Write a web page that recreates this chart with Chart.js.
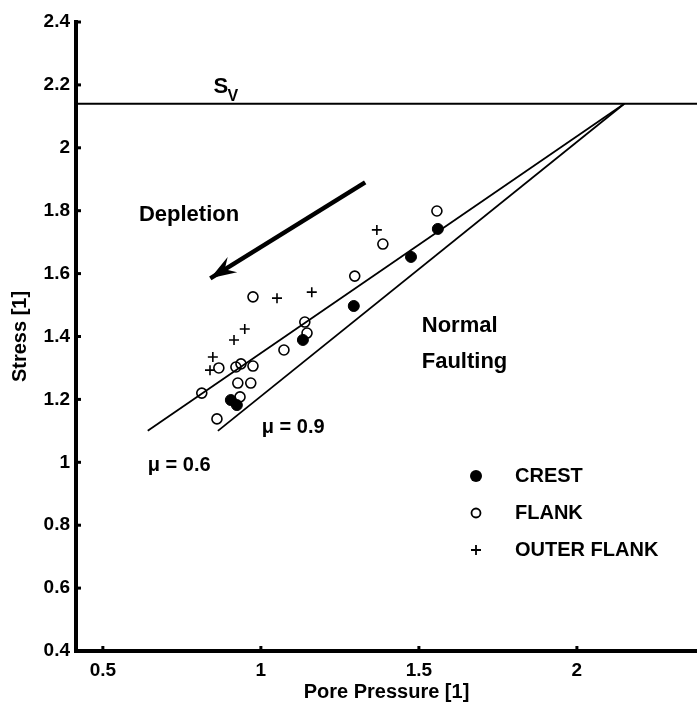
<!DOCTYPE html>
<html>
<head>
<meta charset="utf-8">
<script src="https://cdn.jsdelivr.net/npm/chart.js@4.4.1/dist/chart.umd.min.js"></script>
<style>
  html, body { margin: 0; padding: 0; background: #fff; overflow: hidden; }
  canvas { display: block; }
</style>
</head>
<body>
<canvas id="chart" width="697" height="704" style="width:697px;height:704px"></canvas>
<script>
// values (stress and pore pressure both normalised, [1])
const crestPp = [1.560, 1.475, 1.294, 1.133, 0.905, 0.924]
const crestS  = [1.742, 1.653, 1.497, 1.389, 1.198, 1.182]

const flankPp = [1.557, 1.386, 1.297, 0.975, 1.139, 1.146, 1.073, 0.867, 0.921, 0.937, 0.975, 0.927, 0.968, 0.813, 0.934, 0.861]
const flankS  = [1.799, 1.694, 1.592, 1.526, 1.446, 1.411, 1.357, 1.300, 1.303, 1.313, 1.306, 1.252, 1.252, 1.220, 1.208, 1.138]

const outerPp = [1.367, 1.161, 1.051, 0.949, 0.915, 0.848, 0.839]
const outerS  = [1.739, 1.541, 1.522, 1.424, 1.389, 1.335, 1.293]

const svValue = 2.14
const svPp = [0.415, 2.38]

const mu06Pp = [0.642, 2.15]
const mu06S  = [1.10, 2.14]
const mu09Pp = [0.864, 2.15]
const mu09S  = [1.10, 2.14]

const arrowPp = [1.33, 0.84]
const arrowS  = [1.89, 1.585]

const xTicks = [0.5, 1, 1.5, 2]
const yTicks = [0.4, 0.6, 0.8, 1, 1.2, 1.4, 1.6, 1.8, 2, 2.2, 2.4]
const legendLabels = ['CREST', 'FLANK', 'OUTER FLANK']

const FONT = '"Liberation Sans", Arial, Helvetica, sans-serif'

function toPoints(xs, ys) {
  return xs.map((v, i) => ({ x: v, y: ys[i] }))
}

// text notes placed in data units
const notes = [
  { text: 'Depletion', pp: 0.614, s: 1.786, size: 22 },
  { text: 'Normal', pp: 1.509, s: 1.433, size: 22 },
  { text: 'Faulting', pp: 1.509, s: 1.319, size: 22 },
  { text: 'μ = 0.9', pp: 1.003, s: 1.112, size: 20 },
  { text: 'μ = 0.6', pp: 0.642, s: 0.991, size: 20 },
]

const overlay = {
  id: 'overlay',
  afterDraw(chart) {
    const { ctx, chartArea: area } = chart
    const x = chart.scales.x
    const y = chart.scales.y
    ctx.save()
    ctx.fillStyle = '#000'
    ctx.strokeStyle = '#000'

    // inward tick marks
    ctx.lineWidth = 3
    yTicks.forEach(v => {
      const py = y.getPixelForValue(v)
      ctx.beginPath(); ctx.moveTo(area.left, py); ctx.lineTo(area.left + 5, py); ctx.stroke()
    })
    xTicks.forEach(v => {
      const px = x.getPixelForValue(v)
      ctx.beginPath(); ctx.moveTo(px, area.bottom); ctx.lineTo(px, area.bottom - 5); ctx.stroke()
    })

    // arrow head
    const x0 = x.getPixelForValue(arrowPp[0]), y0 = y.getPixelForValue(arrowS[0])
    const x1 = x.getPixelForValue(arrowPp[1]), y1 = y.getPixelForValue(arrowS[1])
    const a = Math.atan2(y1 - y0, x1 - x0)
    const pt = (d, w) => [x1 - d * Math.cos(a) - w * Math.sin(a), y1 - d * Math.sin(a) + w * Math.cos(a)]
    ctx.beginPath()
    ctx.moveTo(x1, y1)
    ctx.lineTo(...pt(26, 9))
    ctx.lineTo(...pt(17, 0))
    ctx.lineTo(...pt(26, -9))
    ctx.closePath()
    ctx.fill()

    // notes
    ctx.textBaseline = 'middle'
    ctx.textAlign = 'left'
    notes.forEach(n => {
      ctx.font = 'bold ' + n.size + 'px ' + FONT
      ctx.fillText(n.text, x.getPixelForValue(n.pp), y.getPixelForValue(n.s))
    })

    // S_V label
    const sx = x.getPixelForValue(0.85), sy = y.getPixelForValue(2.195)
    ctx.font = 'bold 22px ' + FONT
    ctx.fillText('S', sx, sy)
    ctx.font = 'bold 16px ' + FONT
    ctx.fillText('V', sx + 14, sy + 10)

    // legend
    const lx = 476, tx = 515, rows = [476, 513, 550]
    ctx.font = 'bold 20px ' + FONT
    legendLabels.forEach((lab, i) => ctx.fillText(lab, tx, rows[i]))
    ctx.beginPath(); ctx.arc(lx, rows[0], 6, 0, Math.PI * 2); ctx.fill()
    ctx.lineWidth = 1.8
    ctx.beginPath(); ctx.arc(lx, rows[1], 4.5, 0, Math.PI * 2); ctx.stroke()
    ctx.beginPath()
    ctx.moveTo(lx - 5, rows[2]); ctx.lineTo(lx + 5, rows[2])
    ctx.moveTo(lx, rows[2] - 5); ctx.lineTo(lx, rows[2] + 5)
    ctx.stroke()
    ctx.restore()
  }
}

Chart.defaults.font.family = FONT
Chart.defaults.font.weight = 'bold'
Chart.defaults.color = '#000'

new Chart(document.getElementById('chart'), {
  type: 'scatter',
  data: {
    datasets: [
      {
        label: legendLabels[0],
        data: toPoints(crestPp, crestS),
        pointStyle: 'circle',
        pointRadius: 5.5,
        backgroundColor: '#000',
        borderColor: '#000',
        borderWidth: 1,
      },
      {
        label: legendLabels[1],
        data: toPoints(flankPp, flankS),
        pointStyle: 'circle',
        pointRadius: 5,
        backgroundColor: 'rgba(0,0,0,0)',
        borderColor: '#000',
        borderWidth: 1.6,
      },
      {
        label: legendLabels[2],
        data: toPoints(outerPp, outerS),
        pointStyle: 'cross',
        pointRadius: 5,
        borderColor: '#000',
        borderWidth: 1.6,
      },
      {
        label: 'mu06',
        data: toPoints(mu06Pp, mu06S),
        showLine: true, pointRadius: 0, borderColor: '#000', borderWidth: 1.8,
      },
      {
        label: 'mu09',
        data: toPoints(mu09Pp, mu09S),
        showLine: true, pointRadius: 0, borderColor: '#000', borderWidth: 1.8,
      },
      {
        label: 'Sv',
        data: svPp.map(v => ({ x: v, y: svValue })),
        showLine: true, pointRadius: 0, borderColor: '#000', borderWidth: 1.8,
      },
      {
        label: 'depletion',
        data: toPoints(arrowPp, arrowS),
        showLine: true, pointRadius: 0, borderColor: '#000', borderWidth: 4.5,
      },
    ]
  },
  options: {
    responsive: false,
    animation: false,
    devicePixelRatio: 1,
    layout: { autoPadding: false, padding: { top: 22, right: 0, left: 0, bottom: 0 } },
    plugins: {
      legend: { display: false },
      tooltip: { enabled: false },
    },
    scales: {
      x: {
        type: 'linear',
        min: 0.415,
        max: 2.38,
        afterBuildTicks: scale => { scale.ticks = xTicks.map(v => ({ value: v })) },
        afterFit: scale => { scale.height = 53; scale.paddingLeft = 0; scale.paddingRight = 0 },
        grid: { display: false, drawTicks: false },
        border: { display: true, color: '#000', width: 4 },
        ticks: { padding: 8, font: { size: 19 }, color: '#000', callback: v => String(v) },
        title: { display: true, text: 'Pore Pressure [1]', font: { size: 20 }, color: '#000', padding: { top: 0, bottom: 0 } },
      },
      y: {
        type: 'linear',
        min: 0.4,
        max: 2.4,
        afterBuildTicks: scale => { scale.ticks = yTicks.map(v => ({ value: v })) },
        afterFit: scale => { scale.width = 76; scale.paddingTop = 0; scale.paddingBottom = 0 },
        grid: { display: false, drawTicks: false },
        border: { display: true, color: '#000', width: 4 },
        ticks: { padding: 6, font: { size: 19 }, color: '#000', callback: v => String(v) },
        title: { display: true, text: 'Stress [1]', font: { size: 20 }, color: '#000', padding: { top: 8, bottom: 0 } },
      },
    }
  },
  plugins: [overlay]
})
</script>
</body>
</html>
